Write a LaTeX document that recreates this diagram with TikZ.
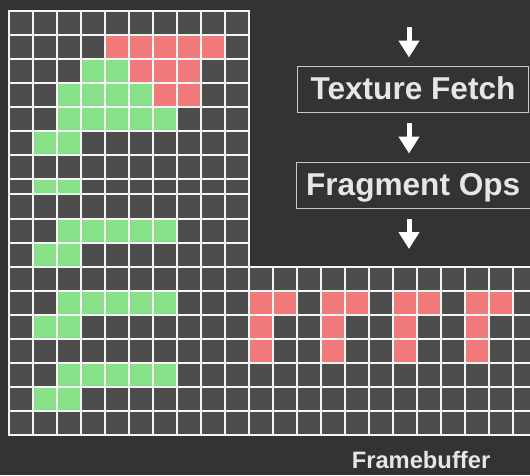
\documentclass[tikz,border=0pt]{standalone}
\usepackage{fontspec}
\setmainfont{Liberation Sans}
\usetikzlibrary{arrows.meta}
\definecolor{bgc}{HTML}{333333}
\definecolor{cellc}{HTML}{4D4D4D}
\definecolor{grn}{HTML}{88E088}
\definecolor{rd}{HTML}{F07A7A}
\definecolor{txt}{HTML}{E6E6E6}
\definecolor{boxc}{HTML}{C8C8C8}
\begin{document}
\begin{tikzpicture}[x=0.75pt,y=-0.75pt,
  gridl/.style={draw=white!96!black,line width=1.5pt,line cap=rect},
  procbox/.style={draw=boxc,line width=0.8pt,text=txt,
    font=\bfseries\fontsize{23.7}{28}\selectfont,
    minimum height=34.2pt,inner sep=0pt,text height=16.5pt,text depth=2.25pt},
  flowarrow/.style={draw=white,line width=3.75pt,
    -{Triangle[width=15pt,length=12.75pt]}},
  lbl/.style={text=txt,font=\bfseries\fontsize{17.8}{21}\selectfont,inner sep=0pt,anchor=base}]
\fill[bgc] (0,0) rectangle (530,475);
\useasboundingbox (0,0) rectangle (530,475);
% cell backgrounds
\fill[cellc] (8.5,10.5) rectangle (248.5,434.5);
\fill[cellc] (248.5,266.5) rectangle (530,434.5);
% red cells (left grid)
\foreach \c in {4,...,8} \fill[rd] (8.5+24*\c,34.5) rectangle ++(24,24);
\foreach \c in {5,6,7} \fill[rd] (8.5+24*\c,58.5) rectangle ++(24,24);
\foreach \c in {6,7} \fill[rd] (8.5+24*\c,82.5) rectangle ++(24,24);
% green cells
\foreach \c in {3,4} \fill[grn] (8.5+24*\c,58.5) rectangle ++(24,24);
\foreach \c in {2,...,5} \fill[grn] (8.5+24*\c,82.5) rectangle ++(24,24);
\foreach \y in {106.5,218.5,290.5,362.5}
  \foreach \c in {2,...,6} \fill[grn] (8.5+24*\c,\y) rectangle ++(24,24);
\foreach \y in {130.5,242.5,314.5,386.5}
  \foreach \c in {1,2} \fill[grn] (8.5+24*\c,\y) rectangle ++(24,24);
\fill[grn] (32.5,178.5) rectangle (80.5,194);
% red cells (right region)
\foreach \c in {0,1,3,4,6,7,9,10} \fill[rd] (248.5+24*\c,290.5) rectangle ++(24,24);
\foreach \y in {314.5,338.5}
  \foreach \c in {0,3,6,9} \fill[rd] (248.5+24*\c,\y) rectangle ++(24,24);
% grid lines
\foreach \k in {0,...,10} \draw[gridl] (8.5+24*\k,10.5) -- (8.5+24*\k,434.5);
\foreach \y in {10.5,34.5,58.5,82.5,106.5,130.5,154.5,178.5,194,218.5,242.5,266.5,290.5,314.5,338.5,362.5,386.5,410.5,434.5}
  \draw[gridl] (8.5,\y) -- (248.5,\y);
\foreach \k in {0,...,7} \draw[gridl] (248.5,266.5+24*\k) -- (531,266.5+24*\k);
\foreach \k in {0,...,10} \draw[gridl] (272.5+24*\k,266.5) -- (272.5+24*\k,434.5);
% pipeline
\node[procbox,minimum width=172.95pt] (tf) at (413,89.5) {Texture Fetch};
\node[procbox,minimum width=175.3pt] (fo) at (413.2,185.5) {Fragment Ops};
\node[lbl] (fb) at (421,468) {Framebuffer};
\coordinate (src) at (409,27);
\coordinate (dst) at (409,249);
\draw[flowarrow] (src) -- ([xshift=-3pt,yshift=6.5pt]tf.north);
\draw[flowarrow] ([xshift=-3pt,yshift=-7.8pt]tf.south) -- ([xshift=-3.15pt,yshift=6.5pt]fo.north);
\draw[flowarrow] ([xshift=-3.15pt,yshift=-7.5pt]fo.south) -- (dst);
\end{tikzpicture}
\end{document}
